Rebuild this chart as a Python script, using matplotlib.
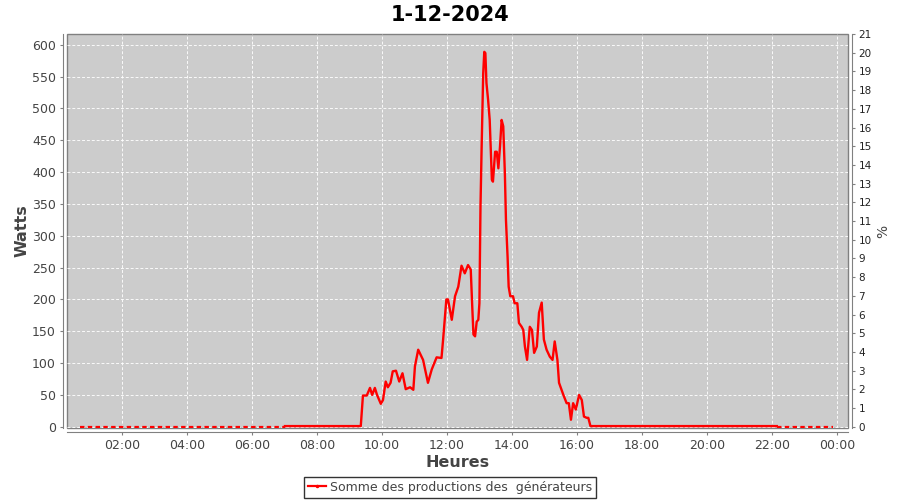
import numpy as np
import matplotlib
matplotlib.use("Agg")
import matplotlib.pyplot as plt
from matplotlib.lines import Line2D

# production (W)
heures = ["07:01", "09:21", "09:25", "09:32", "09:38", "09:42", "09:47", "09:51", "09:58",
          "10:02", "10:07", "10:11", "10:16", "10:20", "10:26", "10:32", "10:38", "10:44",
          "10:52", "10:58", "11:01", "11:07", "11:16", "11:25", "11:32", "11:41", "11:50",
          "11:53", "11:59", "12:02", "12:09", "12:15", "12:21", "12:27", "12:33", "12:39",
          "12:44", "12:47", "12:49", "12:52", "12:55", "12:58", "13:00", "13:02", "13:04",
          "13:07", "13:09", "13:11", "13:13", "13:16", "13:19", "13:23", "13:25", "13:29",
          "13:32", "13:35", "13:38", "13:41", "13:44", "13:47", "13:49", "13:52", "13:54",
          "13:57", "14:02", "14:05", "14:10", "14:13", "14:18", "14:21", "14:24", "14:28",
          "14:33", "14:37", "14:41", "14:46", "14:50", "14:55", "14:59", "15:04", "15:10",
          "15:15", "15:19", "15:24", "15:27", "15:35", "15:41", "15:45", "15:49", "15:53",
          "15:58", "16:04", "16:09", "16:13", "16:18", "16:21", "16:25", "22:09"]
watts = [1, 1, 49, 49, 61, 50, 61, 50, 36,
         42, 71, 62, 69, 87, 88, 71, 84, 59,
         62, 58, 95, 121, 105, 69, 90, 109, 108,
         137, 200, 200, 168, 205, 220, 253, 241, 254,
         247, 184, 145, 142, 165, 168, 194, 346, 435,
         555, 589, 587, 540, 514, 482, 388, 385, 432,
         432, 406, 440, 482, 472, 398, 325, 267, 220,
         205, 205, 194, 194, 163, 157, 152, 126, 105,
         157, 152, 116, 126, 179, 195, 137, 121, 110,
         105, 134, 105, 69, 50, 37, 37, 11, 37,
         27, 50, 42, 16, 14, 14, 1, 1]

# nuit : production nulle
nuit_matin = ["00:42", "07:01"]
nuit_soir = ["22:09", "23:52"]
nuit_watts = [0, 0]

def en_heures(liste):
    return np.array([int(t[:2]) + int(t[3:]) / 60 for t in liste])

x = en_heures(heures)
rouge = "#ff0000"
gris = "#808080"
texte = "#444444"

fig = plt.figure(figsize=(9, 5), dpi=100)
ax = fig.add_axes([0.0744, 0.144, 0.8678, 0.788])
ax.set_facecolor("#cccccc")
ax.patch.set_edgecolor(gris)
ax.patch.set_linewidth(1.0)

ax.plot(x, watts, color=rouge, lw=1.7, solid_joinstyle="round")
for n in (nuit_matin, nuit_soir):
    ax.plot(en_heures(n), nuit_watts, color=rouge, lw=1.6, ls=(0, (2, 1.5)))

ax.set_xlim(0.31, 24.34)
ax.set_ylim(-2, 617)
ax.set_xticks(np.arange(2, 25, 2))
ax.set_xticklabels(["%02d:00" % (h % 24) for h in range(2, 25, 2)])
ax.set_yticks(np.arange(0, 601, 50))
ax.grid(True, color="white", ls=(0, (3, 2)), lw=0.7, alpha=0.9)
ax.set_axisbelow(True)

for s in ("top", "right"):
    ax.spines[s].set_visible(False)
for s in ("left", "bottom"):
    ax.spines[s].set_position(("outward", 3))
    ax.spines[s].set_color(gris)
ax.tick_params(colors=gris, labelcolor=texte, labelsize=9, length=2.5, width=0.8, pad=2.5)

ax.set_xlabel("Heures", fontsize=11.5, fontweight="bold", color=texte, labelpad=2)
ax.set_ylabel("Watts", fontsize=11.5, fontweight="bold", color=texte, labelpad=2)

ax2 = ax.twinx()
ax2.set_ylim(-2 * 21 / 617, 21)
ax2.set_yticks(np.arange(0, 22, 1))
for s in ("top", "left", "bottom"):
    ax2.spines[s].set_visible(False)
ax2.spines["right"].set_position(("outward", 3))
ax2.spines["right"].set_color(gris)
ax2.tick_params(colors=gris, labelcolor="#222222", labelsize=7.5, length=2.5, width=0.8, pad=2)
ax2.set_ylabel("%", fontsize=10, color=texte, labelpad=3)

fig.suptitle("1-12-2024", fontsize=15, fontweight="bold", y=0.99)

poignee = Line2D([], [], color=rouge, lw=1.6, marker="o", markersize=1.5)
leg = fig.legend([poignee], ["Somme des productions des  générateurs"],
                 loc="lower center", bbox_to_anchor=(0.5, 0.0), fontsize=9,
                 frameon=True, fancybox=False, handlelength=1.5, handletextpad=0.3,
                 borderpad=0.3, borderaxespad=0.2)
leg.get_frame().set_edgecolor("black")
leg.get_frame().set_linewidth(1.0)
for t in leg.get_texts():
    t.set_color(texte)

fig.savefig("out.png", dpi=100)
